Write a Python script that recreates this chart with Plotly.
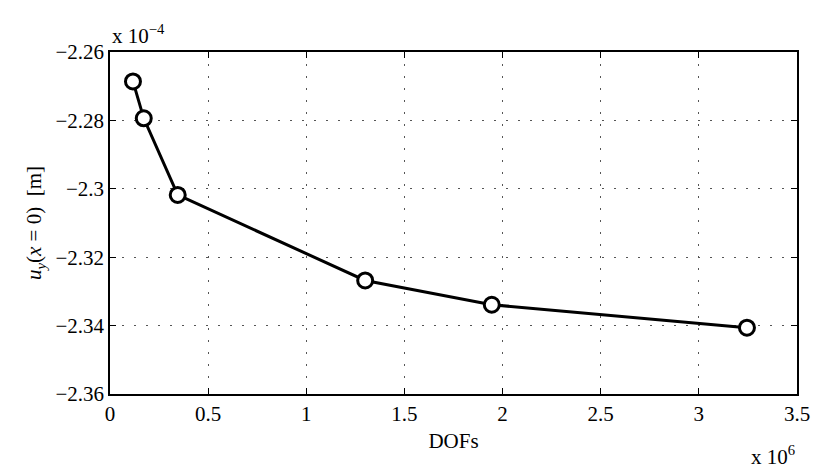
import plotly.graph_objects as go

# Degrees of freedom (in units of 10^6) and tip displacement u_y(x=0) (in units of 10^-4 m)
dofs = [0.117, 0.172, 0.345, 1.30, 1.945, 3.245]
uy = [-2.2686, -2.2794, -2.3018, -2.3268, -2.3339, -2.3406]

x_ticks = [0, 0.5, 1, 1.5, 2, 2.5, 3, 3.5]
x_ticktext = ["0", "0.5", "1", "1.5", "2", "2.5", "3", "3.5"]
y_ticks = [-2.36, -2.34, -2.32, -2.30, -2.28, -2.26]
y_ticktext = ["\u22122.36", "\u22122.34", "\u22122.32", "\u22122.3", "\u22122.28", "\u22122.26"]

FONT = "Liberation Serif"
FS = 21

fig = go.Figure()
fig.add_trace(go.Scatter(
    x=dofs, y=uy, mode="lines+markers",
    line=dict(color="black", width=3),
    marker=dict(symbol="circle", size=15, color="white",
                line=dict(color="black", width=3)),
    showlegend=False, cliponaxis=False,
))

axis_common = dict(
    showline=True, linecolor="black", linewidth=1.5, mirror="ticks",
    ticks="inside", ticklen=6, tickwidth=1, tickcolor="black",
    showgrid=True, gridcolor="#555555", griddash="2px,10px", gridwidth=1,
    zeroline=False, tickfont=dict(family=FONT, size=FS, color="black"),
)

fig.update_xaxes(
    range=[0, 3.5], tickvals=x_ticks, ticktext=x_ticktext,
    title=dict(text="DOFs", font=dict(family=FONT, size=FS, color="black"), standoff=8),
    **axis_common,
)
fig.update_yaxes(
    range=[-2.36, -2.26], tickvals=y_ticks, ticktext=y_ticktext,
    title=dict(text="<i>u</i><sub><i>y</i></sub>(<i>x</i> = 0)  [m]",
               font=dict(family=FONT, size=FS, color="black"), standoff=8),
    **axis_common,
)

# Axis exponent annotations
fig.add_annotation(x=0, y=1, xref="paper", yref="paper", xanchor="left", yanchor="bottom",
                   yshift=2, showarrow=False,
                   text="x 10<sup>\u22124</sup>", font=dict(family=FONT, size=FS, color="black"))
fig.add_annotation(x=1, y=0, xref="paper", yref="paper", xanchor="right", yanchor="top",
                   yshift=-46, showarrow=False,
                   text="x 10<sup>6</sup>", font=dict(family=FONT, size=FS, color="black"))

fig.update_layout(
    width=822, height=469,
    margin=dict(l=110, r=16, t=52, b=75),
    paper_bgcolor="white", plot_bgcolor="white",
)

fig.write_html("out.html")
